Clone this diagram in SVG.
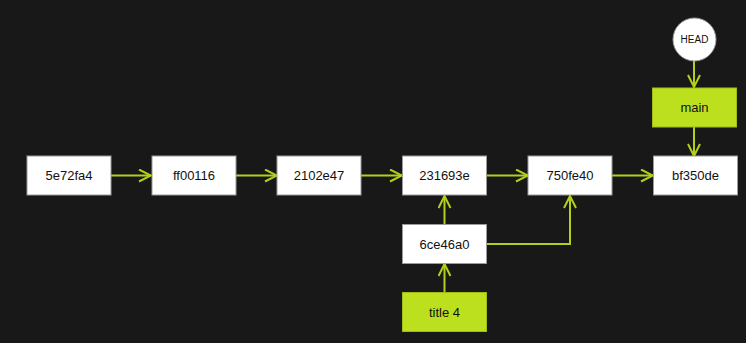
<svg xmlns="http://www.w3.org/2000/svg" width="746" height="343" viewBox="0 0 746 343">
  <style>
    .commit rect { fill: #ffffff; stroke: #9a9a9a; stroke-width: 1; }
    .ref rect { fill: #bde01e; stroke: #9fbd16; stroke-width: 1; }
    .head circle { fill: #ffffff; stroke: #9a9a9a; stroke-width: 1; }
    text { font-family: "Liberation Sans", Arial, sans-serif; font-size: 13px; fill: #111; text-anchor: middle; dominant-baseline: central; }
    .head text { font-size: 10px; }
    .edge { fill: none; stroke: #b2cf1a; stroke-width: 2; marker-end: url(#chev); }
  </style>
  <defs>
    <!-- open chevron arrowhead, tip sits on the target edge -->
    <marker id="chev" viewBox="0 0 14 14" refX="13" refY="7" markerWidth="14" markerHeight="14" markerUnits="userSpaceOnUse" orient="auto">
      <path d="M1,1 L13,7 L1,13" fill="none" stroke="#b2cf1a" stroke-width="2"/>
    </marker>
  </defs>
  <rect width="746" height="343" fill="#181818"/>

  <g id="connectors">
    <path class="edge" d="M111,175.5 H151"/>
    <path class="edge" d="M236,175.5 H277"/>
    <path class="edge" d="M361,175.5 H402"/>
    <path class="edge" d="M487,175.5 H528"/>
    <path class="edge" d="M612,175.5 H653"/>
    <path class="edge" d="M444.5,224 V196"/>
    <path class="edge" d="M487,244 H570 V196"/>
    <path class="edge" d="M444.5,292 V264"/>
    <path class="edge" d="M694,61 V87"/>
    <path class="edge" d="M694,127 V156"/>
  </g>

  <g id="n5e72fa4" class="commit"><rect x="27" y="156" width="84" height="39"/><text x="69" y="175.5">5e72fa4</text></g>
  <g id="nff00116" class="commit"><rect x="152" y="156" width="84" height="39"/><text x="194" y="175.5">ff00116</text></g>
  <g id="n2102e47" class="commit"><rect x="277" y="156" width="84" height="39"/><text x="319" y="175.5">2102e47</text></g>
  <g id="n231693e" class="commit"><rect x="402.5" y="156" width="84" height="39"/><text x="444.5" y="175.5">231693e</text></g>
  <g id="n750fe40" class="commit"><rect x="528" y="156" width="84" height="39"/><text x="570" y="175.5">750fe40</text></g>
  <g id="nbf350de" class="commit"><rect x="653.5" y="156" width="84" height="39"/><text x="695.5" y="175.5">bf350de</text></g>
  <g id="n6ce46a0" class="commit"><rect x="402.5" y="224.5" width="84" height="39"/><text x="444.5" y="244">6ce46a0</text></g>
  <g id="title4" class="ref"><rect x="402.5" y="292.5" width="84" height="39"/><text x="444.5" y="312">title 4</text></g>
  <g id="main" class="ref"><rect x="652.5" y="88" width="84" height="39"/><text x="694.5" y="107.5">main</text></g>
  <g id="head" class="head"><circle cx="694.5" cy="39.5" r="21.5"/><text x="694.5" y="39.5">HEAD</text></g>
</svg>
